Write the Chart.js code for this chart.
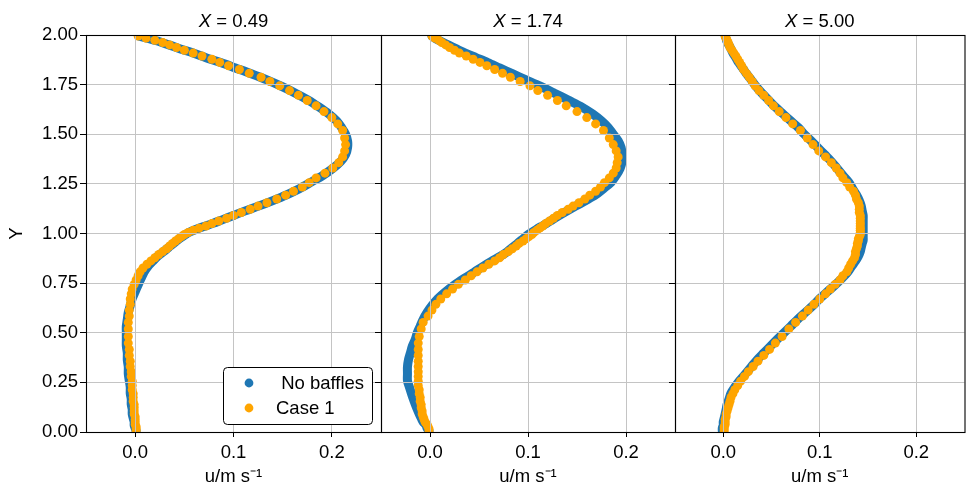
<!DOCTYPE html>
<html>
<head>
<meta charset="utf-8">
<script src="https://cdn.jsdelivr.net/npm/chart.js@4.4.1/dist/chart.umd.min.js"></script>
<style>
  html, body { margin: 0; padding: 0; background: #fff; }
  #wrap { position: relative; width: 969px; height: 486px; }
  #wrap canvas { position: absolute; left: 0; top: 0; }
</style>
</head>
<body>
<div id="wrap">
  <canvas id="c0" width="969" height="486"></canvas>
  <canvas id="c1" width="969" height="486"></canvas>
  <canvas id="c2" width="969" height="486"></canvas>
</div>
<script>
// ---- data ----
const panelTitles = ['0.49', '1.74', '5.00'];
const seriesLabels = [' No baffles', 'Case 1'];
const yAxisLabel = 'Y';
const xAxisLabel = 'u/m s\u207B\u00B9';
const xTickValues = [0.0, 0.1, 0.2];
const yTickStep = 0.25;

// Y positions of the "No baffles" profile samples
const yNoBaffles = [0.006,0.019,0.034,0.051,0.070,0.091,0.114,0.139,0.166,0.195,0.226,0.259,0.293,0.328,0.363,0.398,0.433,0.467,0.500,0.533,0.567,0.602,0.637,0.672,0.707,0.741,0.774,0.805,0.834,0.861,0.886,0.909,0.930,0.949,0.966,0.981,0.994,
1.006,1.019,1.034,1.051,1.070,1.091,1.114,1.139,1.166,1.195,1.226,1.259,1.293,1.328,1.363,1.398,1.433,1.467,1.500,1.533,1.567,1.602,1.637,1.672,1.707,1.741,1.774,1.805,1.834,1.861,1.886,1.909,1.930,1.949,1.966,1.981,1.994];

// Y positions of the "Case 1" cell centres
const yCase1 = [0.005,0.016,0.027,0.038,0.050,0.063,0.077,0.091,0.106,0.122,0.138,0.155,0.174,0.193,0.213,0.234,0.256,0.280,0.304,0.330,0.357,0.386,0.416,0.448,0.481,
0.519,0.552,0.584,0.614,0.643,0.670,0.696,0.720,0.744,0.766,0.787,0.807,0.826,0.845,0.862,0.878,0.894,0.909,0.923,0.937,0.950,0.962,0.973,0.984,0.995,
1.005,1.016,1.027,1.038,1.050,1.063,1.077,1.091,1.106,1.122,1.138,1.155,1.174,1.193,1.213,1.234,1.256,1.280,1.304,1.330,1.357,1.386,1.416,1.448,1.481,
1.519,1.552,1.584,1.614,1.643,1.670,1.696,1.720,1.744,1.766,1.787,1.807,1.826,1.845,1.862,1.878,1.894,1.909,1.923,1.937,1.950,1.962,1.973,1.984,1.995];

// X = 0.49
const noBaffles049 = [0.001,0.000,-0.001,-0.001,-0.002,-0.003,-0.003,-0.004,-0.004,-0.005,-0.005,-0.006,-0.007,-0.007,-0.008,-0.008,-0.009,-0.009,-0.009,-0.009,-0.008,-0.007,-0.005,-0.003,0.000,0.003,0.006,0.009,0.013,0.018,0.023,0.029,0.034,0.039,0.043,0.047,0.051,
0.055,0.061,0.069,0.079,0.089,0.100,0.112,0.126,0.140,0.154,0.167,0.179,0.191,0.201,0.209,0.214,0.216,0.216,0.214,0.210,0.205,0.197,0.187,0.176,0.163,0.149,0.134,0.118,0.102,0.087,0.072,0.059,0.046,0.035,0.025,0.014,0.004];
const case1_049 = [0.001,0.001,0.001,0.000,0.000,0.000,0.000,-0.001,-0.001,-0.001,-0.001,-0.002,-0.002,-0.002,-0.003,-0.003,-0.003,-0.004,-0.004,-0.005,-0.005,-0.006,-0.006,-0.007,-0.007,
-0.007,-0.007,-0.006,-0.006,-0.005,-0.005,-0.004,-0.003,-0.001,0.001,0.003,0.005,0.008,0.012,0.016,0.020,0.024,0.028,0.032,0.035,0.038,0.041,0.044,0.047,0.050,
0.054,0.059,0.065,0.072,0.078,0.085,0.093,0.100,0.108,0.117,0.125,0.134,0.144,0.153,0.161,0.170,0.177,0.184,0.193,0.201,0.207,0.211,0.213,0.214,0.213,
0.211,0.206,0.200,0.192,0.184,0.175,0.166,0.157,0.147,0.137,0.128,0.116,0.106,0.095,0.086,0.078,0.068,0.059,0.050,0.042,0.035,0.028,0.020,0.011,0.003];

// X = 1.74
const noBaffles174 = [-0.001,-0.003,-0.004,-0.007,-0.009,-0.011,-0.013,-0.015,-0.017,-0.019,-0.021,-0.023,-0.023,-0.023,-0.022,-0.020,-0.018,-0.015,-0.013,-0.010,-0.007,-0.003,0.002,0.008,0.016,0.025,0.035,0.045,0.054,0.063,0.072,0.079,0.084,0.089,0.093,0.097,0.100,
0.104,0.108,0.113,0.119,0.125,0.132,0.140,0.149,0.159,0.169,0.177,0.185,0.190,0.194,0.196,0.196,0.195,0.192,0.187,0.182,0.175,0.166,0.155,0.141,0.127,0.113,0.098,0.084,0.071,0.059,0.047,0.036,0.027,0.019,0.012,0.006,0.002];
const case1_174 = [-0.001,-0.001,-0.002,-0.003,-0.005,-0.006,-0.007,-0.008,-0.008,-0.009,-0.009,-0.010,-0.010,-0.011,-0.011,-0.012,-0.012,-0.012,-0.012,-0.012,-0.012,-0.012,-0.012,-0.012,-0.011,
-0.009,-0.007,-0.002,0.002,0.006,0.011,0.017,0.023,0.029,0.036,0.042,0.048,0.054,0.060,0.066,0.071,0.075,0.080,0.084,0.088,0.091,0.095,0.098,0.101,0.104,
0.106,0.109,0.112,0.115,0.118,0.122,0.126,0.130,0.135,0.141,0.146,0.152,0.158,0.163,0.169,0.174,0.178,0.183,0.187,0.190,0.191,0.192,0.190,0.187,0.183,
0.177,0.169,0.160,0.150,0.139,0.130,0.120,0.110,0.102,0.092,0.082,0.074,0.066,0.058,0.051,0.044,0.037,0.030,0.025,0.020,0.016,0.012,0.009,0.005,0.002];

// X = 5.00
const noBaffles500 = [-0.001,-0.001,0.000,0.000,0.001,0.002,0.003,0.004,0.006,0.008,0.012,0.017,0.023,0.029,0.035,0.042,0.049,0.056,0.063,0.070,0.077,0.085,0.093,0.100,0.108,0.116,0.123,0.129,0.133,0.137,0.140,0.142,0.143,0.144,0.145,0.145,0.145,
0.145,0.145,0.145,0.145,0.145,0.145,0.144,0.143,0.141,0.138,0.134,0.130,0.124,0.118,0.112,0.105,0.098,0.091,0.084,0.078,0.070,0.062,0.054,0.047,0.040,0.034,0.029,0.024,0.020,0.016,0.013,0.010,0.008,0.006,0.004,0.003,0.002];
const case1_500 = [0.001,0.001,0.001,0.002,0.002,0.002,0.003,0.003,0.004,0.005,0.006,0.007,0.008,0.010,0.012,0.015,0.018,0.022,0.026,0.031,0.036,0.042,0.048,0.054,0.061,
0.068,0.075,0.082,0.088,0.094,0.100,0.106,0.111,0.116,0.121,0.124,0.128,0.130,0.132,0.134,0.136,0.137,0.137,0.138,0.139,0.139,0.140,0.140,0.141,0.142,
0.142,0.142,0.142,0.142,0.142,0.142,0.142,0.142,0.141,0.141,0.141,0.140,0.138,0.137,0.135,0.131,0.128,0.124,0.121,0.117,0.112,0.106,0.099,0.093,0.087,
0.080,0.072,0.065,0.058,0.052,0.047,0.042,0.037,0.033,0.030,0.027,0.024,0.021,0.019,0.017,0.015,0.013,0.011,0.009,0.007,0.006,0.005,0.004,0.003,0.002];

// ---- styling / layout ----
const BLUE = '#1f77b4';
const ORANGE = '#ffa500';
const FONT = '"Liberation Sans", Arial, Helvetica, sans-serif';
const FS = 18.5;
const panelBoxes = [{left: 86, right: 381}, {left: 381, right: 675}, {left: 675, right: 968}];
const noBafflesSets = [noBaffles049, noBaffles174, noBaffles500];
const case1Sets = [case1_049, case1_174, case1_500];

const framePlugin = {
  id: 'frame',
  afterDraw(chart) {
    const {ctx, chartArea: a} = chart;
    ctx.save();
    ctx.strokeStyle = '#000';
    ctx.lineWidth = 1.1;
    ctx.strokeRect(a.left + 0.5, a.top + 0.5, a.right - a.left, a.bottom - a.top);
    ctx.restore();
  }
};

const titlePlugin = {
  id: 'panelTitle',
  afterDraw(chart, args, opts) {
    const {ctx, chartArea: a} = chart;
    ctx.save();
    ctx.fillStyle = '#000';
    ctx.textBaseline = 'alphabetic';
    ctx.textAlign = 'left';
    ctx.font = 'italic ' + FS + 'px ' + FONT;
    const w1 = ctx.measureText('X').width;
    ctx.font = FS + 'px ' + FONT;
    const rest = ' = ' + opts.value;
    const w2 = ctx.measureText(rest).width;
    const x = (a.left + a.right) / 2 - (w1 + w2) / 2;
    ctx.font = 'italic ' + FS + 'px ' + FONT;
    ctx.fillText('X', x, 27);
    ctx.font = FS + 'px ' + FONT;
    ctx.fillText(rest, x + w1, 27);
    ctx.restore();
  }
};

const legendPlugin = {
  id: 'boxLegend',
  afterDraw(chart, args, opts) {
    if (!opts.show) return;
    const ctx = chart.ctx;
    const bx = 223.5, by = 367.5, bw = 149, bh = 57, r = 4;
    ctx.save();
    ctx.beginPath();
    ctx.moveTo(bx + r, by);
    ctx.lineTo(bx + bw - r, by);
    ctx.arcTo(bx + bw, by, bx + bw, by + r, r);
    ctx.lineTo(bx + bw, by + bh - r);
    ctx.arcTo(bx + bw, by + bh, bx + bw - r, by + bh, r);
    ctx.lineTo(bx + r, by + bh);
    ctx.arcTo(bx, by + bh, bx, by + bh - r, r);
    ctx.lineTo(bx, by + r);
    ctx.arcTo(bx, by, bx + r, by, r);
    ctx.closePath();
    ctx.fillStyle = '#fff';
    ctx.fill();
    ctx.strokeStyle = '#000';
    ctx.lineWidth = 1;
    ctx.stroke();
    const items = [{c: BLUE, t: seriesLabels[0], y: 383}, {c: ORANGE, t: seriesLabels[1], y: 408}];
    ctx.font = FS + 'px ' + FONT;
    ctx.textBaseline = 'middle';
    ctx.textAlign = 'left';
    items.forEach(it => {
      ctx.beginPath();
      ctx.arc(249, it.y, 4.4, 0, Math.PI * 2);
      ctx.fillStyle = it.c;
      ctx.fill();
      ctx.fillStyle = '#000';
      ctx.fillText(it.t, 276, it.y + 1);
    });
    ctx.restore();
  }
};

function makePanel(i) {
  const yw = i === 0 ? 86 : 10;
  const box = panelBoxes[i];
  const blue = yNoBaffles.map((y, k) => ({x: noBafflesSets[i][k], y: y}));
  const orange = yCase1.map((y, k) => ({x: case1Sets[i][k], y: y}));
  new Chart(document.getElementById('c' + i), {
    type: 'scatter',
    data: {
      datasets: [
        {
          label: seriesLabels[1], data: orange, order: 0,
          backgroundColor: ORANGE, borderColor: ORANGE,
          pointRadius: 4.5, pointBorderWidth: 0, showLine: false, clip: 0
        },
        {
          label: seriesLabels[0], data: blue, order: 1,
          backgroundColor: BLUE, borderColor: BLUE,
          pointRadius: 0, showLine: true, borderWidth: 9, tension: 0.3,
          borderCapStyle: 'round', borderJoinStyle: 'round', clip: 0
        }
      ]
    },
    options: {
      responsive: false,
      animation: false,
      devicePixelRatio: 1,
      events: [],
      layout: {padding: {left: box.left - yw, right: 969 - box.right, top: 35, bottom: 0}},
      plugins: {
        legend: {display: false},
        tooltip: {enabled: false},
        panelTitle: {value: panelTitles[i]},
        boxLegend: {show: i === 0}
      },
      scales: {
        x: {
          type: 'linear', min: -0.05, max: 0.25,
          afterBuildTicks: s => { s.ticks = xTickValues.map(v => ({value: v})); },
          ticks: {
            callback: v => Number(v).toFixed(1),
            font: {size: FS, family: FONT}, color: '#000', padding: 5, maxRotation: 0
          },
          grid: {color: '#c4c4c4', lineWidth: 1, tickColor: '#000', tickLength: 5, z: 1},
          border: {display: false},
          title: {
            display: true, text: xAxisLabel, color: '#000',
            font: {size: FS, family: FONT, lineHeight: 1}, padding: {top: 0, bottom: 0}
          },
          afterFit: s => { s.height = 54; }
        },
        y: {
          type: 'linear', min: 0, max: 2,
          ticks: {
            stepSize: yTickStep, display: i === 0,
            callback: v => Number(v).toFixed(2),
            font: {size: FS, family: FONT}, color: '#000', padding: 2
          },
          grid: {color: '#c4c4c4', lineWidth: 1, tickColor: '#000', tickLength: 6, z: 1},
          border: {display: false},
          title: {
            display: i === 0, text: yAxisLabel, color: '#000',
            font: {size: FS, family: FONT, lineHeight: 1}, padding: {top: 8, bottom: 0}
          },
          afterFit: s => { s.width = yw; }
        }
      }
    },
    plugins: [framePlugin, titlePlugin, legendPlugin]
  });
}
[0, 1, 2].forEach(makePanel);
</script>
</body>
</html>
